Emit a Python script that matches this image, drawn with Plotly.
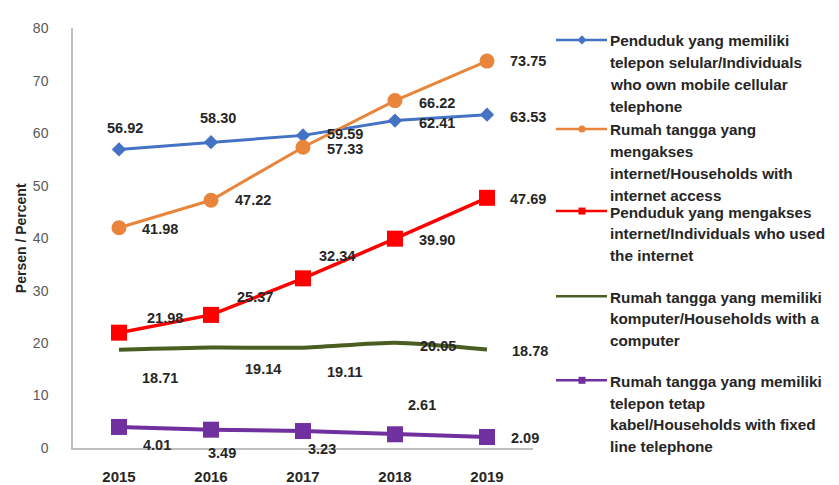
import plotly.graph_objects as go

W, H = 839, 485

years = ["2015", "2016", "2017", "2018", "2019"]

mobile_phone = [56.92, 58.30, 59.59, 62.41, 63.53]
hh_internet = [41.98, 47.22, 57.33, 66.22, 73.75]
ind_internet = [21.98, 25.37, 32.34, 39.90, 47.69]
hh_computer = [18.71, 19.14, 19.11, 20.05, 18.78]
hh_fixed_line = [4.01, 3.49, 3.23, 2.61, 2.09]

legend_mobile = ["Penduduk yang memiliki", "telepon selular/Individuals",
                 "who own mobile cellular", "telephone"]
legend_hh_internet = ["Rumah tangga yang", "mengakses",
                      "internet/Households with", "internet access"]
legend_ind_internet = ["Penduduk yang mengakses",
                       "internet/Individuals who used", "the internet"]
legend_computer = ["Rumah tangga yang memiliki",
                   "komputer/Households with a", "computer"]
legend_fixed = ["Rumah tangga yang memiliki", "telepon tetap",
                "kabel/Households with fixed", "line telephone"]

y_ticks = [0, 10, 20, 30, 40, 50, 60, 70, 80]
y_title = "Persen / Percent"

# ---- styles (positions in pixels) ----
def px(x):
    return x / W

def py(y):
    return 1 - y / H

TXT = "#262626"
FONT = "Liberation Sans"

series = [
    dict(vals=mobile_phone, legend=legend_mobile, color="#4472C4", width=3,
         symbol="diamond", size=11, mode="lines+markers", shape="linear",
         offs=[(6, -21), (7, -24), (42, -1), (42, 2), (41, 2)], leg_y=34),
    dict(vals=hh_internet, legend=legend_hh_internet, color="#E9853A", width=3,
         symbol="circle", size=15, mode="lines+markers", shape="linear",
         offs=[(41, 1), (42, 0), (42, 2), (42, 2), (41, 0)], leg_y=126),
    dict(vals=ind_internet, legend=legend_ind_internet, color="#FF0000", width=3.5,
         symbol="square", size=16, mode="lines+markers", shape="linear",
         offs=[(46, -15), (44, -18), (34, -22), (42, 1), (41, 1)], leg_y=211),
    dict(vals=hh_computer, legend=legend_computer, color="#4B5E22", width=4,
         symbol="circle", size=0, mode="lines", shape="spline",
         offs=[(41, 28), (52, 21), (42, 24), (43, 3), (43, 2)], leg_y=299),
    dict(vals=hh_fixed_line, legend=legend_fixed, color="#7030A0", width=4,
         symbol="square", size=16, mode="lines+markers", shape="linear",
         offs=[(38, 18), (11, 23), (19, 18), (27, -29), (38, 1)], leg_y=386),
]

fig = go.Figure()
annotations = []

for s in series:
    fig.add_trace(go.Scatter(
        x=years, y=s["vals"], mode=s["mode"],
        line=dict(color=s["color"], width=s["width"], shape=s["shape"],
                  smoothing=0.6),
        marker=dict(symbol=s["symbol"], size=s["size"], color=s["color"]),
        showlegend=False, xaxis="x", yaxis="y", cliponaxis=False,
    ))
    for idx, (v, (dx, dy)) in enumerate(zip(s["vals"], s["offs"])):
        annotations.append(dict(
            x=idx, y=v, xref="x", yref="y", text=f"{v:.2f}", showarrow=False,
            xshift=dx, yshift=-dy, xanchor="center", yanchor="middle",
            font=dict(family=FONT, size=14.5, color=TXT, weight="bold"),
        ))
    # custom legend: sample line + marker on pixel overlay axes
    ly = s["leg_y"]
    fig.add_trace(go.Scatter(
        x=[556, 607], y=[ly - 1, ly - 1], mode="lines",
        line=dict(color=s["color"], width=2.5),
        showlegend=False, xaxis="x2", yaxis="y2", hoverinfo="skip",
    ))
    if s["size"] > 0:
        fig.add_trace(go.Scatter(
            x=[582], y=[ly - 1], mode="markers",
            marker=dict(symbol=s["symbol"], size=7, color=s["color"]),
            showlegend=False, xaxis="x2", yaxis="y2", hoverinfo="skip",
        ))
    for i, line in enumerate(s["legend"]):
        annotations.append(dict(
            x=px(608), y=py(ly + i * 22.5), xref="paper", yref="paper",
            text=line, showarrow=False, xanchor="left", yanchor="middle",
            font=dict(family=FONT, size=15.3, color=TXT, weight="bold"),
        ))

annotations.append(dict(
    x=px(21), y=py(238), xref="paper", yref="paper", text=y_title,
    textangle=-90, showarrow=False, xanchor="center", yanchor="middle",
    font=dict(family=FONT, size=14, color=TXT, weight="bold"),
))

fig.update_layout(
    width=W, height=H,
    margin=dict(l=0, r=0, t=0, b=0),
    paper_bgcolor="white", plot_bgcolor="rgba(0,0,0,0)",
    xaxis=dict(domain=[px(73), px(533)], type="category",
               range=[-0.5, 4.5], showline=True, linecolor="#BFBFBF",
               linewidth=1.5, showgrid=False, zeroline=False, ticks="",
               tickfont=dict(family=FONT, size=15, color=TXT, weight="bold"),
               ticklabelstandoff=14, anchor="y"),
    yaxis=dict(domain=[py(455), py(21)], range=[0, 80], tickvals=y_ticks,
               showline=True, linecolor="#BFBFBF", linewidth=1.5,
               showgrid=False, zeroline=False, ticks="",
               tickfont=dict(family=FONT, size=14, color="#595959"),
               ticklabelstandoff=20, anchor="x"),
    xaxis2=dict(domain=[0, 1], range=[0, W], visible=False, anchor="y2",
                fixedrange=True),
    yaxis2=dict(domain=[0, 1], range=[H, 0], visible=False, anchor="x2",
                fixedrange=True),
    annotations=annotations,
    showlegend=False,
)

fig.write_html("out.html")
